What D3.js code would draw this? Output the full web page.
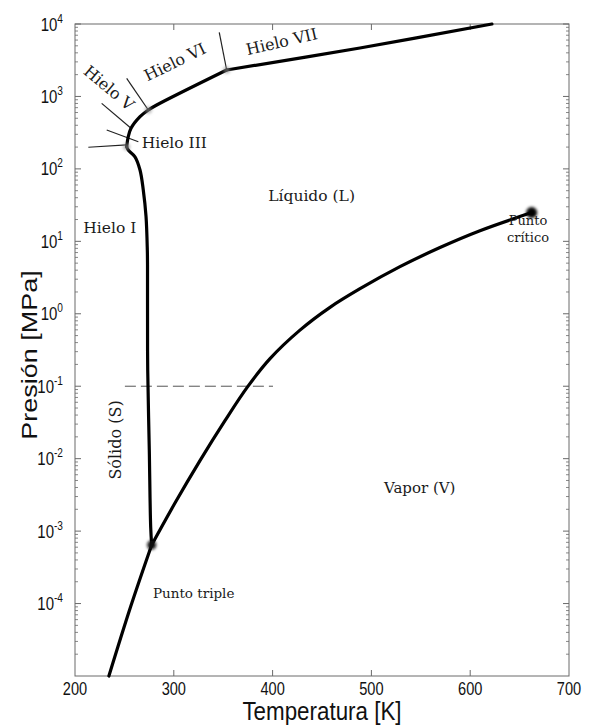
<!DOCTYPE html>
<html>
<head>
<meta charset="utf-8">
<script src="https://cdn.jsdelivr.net/npm/d3@7"></script>
<style>
  body { margin: 0; background: #fff; }
  svg { display: block; }
</style>
</head>
<body>
<svg id="chart" width="600" height="726"></svg>
<script>
// Phase diagram of water: temperature in K, pressure in MPa.

// Solid–vapour boundary (sublimation)
const sublimation = [[234.3, 1e-5], [256.2, 8.95e-5], [277.6, 6.43e-4]];

// Liquid–vapour boundary, triple point to critical point
const vaporization = [
  [277.6, 6.43e-4], [301.2, 2.44e-3], [326.5, 9.40e-3], [351.8, 0.0335],
  [374.6, 0.098], [397.4, 0.2405], [427.7, 0.5953], [458.1, 1.228],
  [488.5, 2.219], [528.9, 4.465], [569.4, 8.219], [609.9, 14.02],
  [662.2, 24.93]
];

// Ice Ih melting line, triple point up to the Ih–III–liquid point
const meltingIh = [
  [277.6, 6.43e-4], [276.6, 1.14e-3], [275.2, 0.0132], [273.6, 0.1675],
  [273.4, 1.55], [273.4, 4.71], [273.2, 7.59], [271.9, 21.9],
  [269.1, 51.2], [265.8, 96.6], [260.7, 147], [253.9, 182], [252.3, 202]
];

// Melting line of ices III, V and VI
const meltingHigh = [
  [252.3, 202], [253.9, 278], [256.7, 363], [265.8, 525],
  [274.2, 650], [282.7, 762], [353.5, 2317]
];

// Melting line of ice VII
const meltingVII = [[353.5, 2317], [488.4, 4667], [622, 1e4]];

// Boundaries between the ice phases
const iceBoundaries = [
  [[213.5, 199], [252.3, 214]],
  [[232.1, 344], [264.1, 237]],
  [[256.7, 363], [227.0, 803]],
  [[274.2, 650], [252.3, 1778]],
  [[353.5, 2317], [346.0, 7676]]
];

// Atmospheric pressure reference (0.1 MPa)
const atmLine = [[250.5, 0.1], [400.4, 0.1]];

const triplePoint = [277.6, 6.43e-4];
const criticalPoint = [662.2, 24.93];
const iceJunctions = [[252.3, 202], [274.2, 650], [353.5, 2317]];

// Axis ticks
const xTicks = [200, 300, 400, 500, 600, 700];
const yExponents = [-4, -3, -2, -1, 0, 1, 2, 3, 4];
const minorDecades = [-5, -4, -3, -2, -1, 0, 1, 2, 3];
const minorMultiples = [2, 3, 4, 5, 6, 7, 8, 9];

// Region and phase labels: [text, T, P, rotation, anchor, size]
const phaseLabels = [
  ["Hielo VII", 409.2, 5700, -13, "middle", 16],
  ["Hielo VI", 301.2, 2985, -26, "middle", 16],
  ["Hielo V", 234.4, 1309, 40, "middle", 16],
  ["Hielo III", 267.5, 196, 0, "start", 15.5],
  ["Hielo I", 208.4, 13.0, 0, "start", 15.5],
  ["Líquido (L)", 395.6, 36.4, 0, "start", 15.5],
  ["Vapor (V)", 512.7, 3.36e-3, 0, "start", 15],
  ["Sólido (S)", 240.5, 0.0181, -90, "middle", 16],
  ["Punto triple", 278.9, 1.19e-4, 0, "start", 13.5],
  ["Punto", 658.5, 16.8, 0, "middle", 13],
  ["crítico", 658.5, 9.88, 0, "middle", 13]
];

const xTitle = "Temperatura [K]";
const yTitle = "Presión [MPa]";

const svg = d3.select("#chart");
const x = d3.scaleLinear().domain([200, 700]).range([75, 569]);
const y = d3.scaleLog().domain([1e-5, 1e4]).range([676, 24]);
const SQ = 0.81; // horizontal compression of the sans-serif lettering

const defs = svg.append("defs");
defs.append("filter").attr("id", "soft").attr("x", "-1").attr("y", "-1")
  .attr("width", "3").attr("height", "3")
  .append("feGaussianBlur").attr("stdDeviation", 1.8);

const axisColor = "#6a6a6a";
const frame = svg.append("g");

// x ticks on bottom and top edges
xTicks.slice(1, -1).forEach(t => {
  frame.append("line").attr("x1", x(t)).attr("x2", x(t))
    .attr("y1", y.range()[0]).attr("y2", y.range()[0] - 6)
    .attr("stroke", axisColor).attr("stroke-width", 1);
  frame.append("line").attr("x1", x(t)).attr("x2", x(t))
    .attr("y1", y.range()[1]).attr("y2", y.range()[1] + 6)
    .attr("stroke", axisColor).attr("stroke-width", 1);
});

// y ticks: majors and log minors on both sides
const x0 = x.range()[0], x1 = x.range()[1];
yExponents.forEach(e => {
  const yy = y(Math.pow(10, e));
  frame.append("line").attr("x1", x0).attr("x2", x0 + 6).attr("y1", yy).attr("y2", yy)
    .attr("stroke", axisColor);
  frame.append("line").attr("x1", x1).attr("x2", x1 - 6).attr("y1", yy).attr("y2", yy)
    .attr("stroke", axisColor);
});
minorDecades.forEach(d => {
  minorMultiples.forEach(m => {
    const yy = y(m * Math.pow(10, d));
    frame.append("line").attr("x1", x0).attr("x2", x0 + 3).attr("y1", yy).attr("y2", yy)
      .attr("stroke", axisColor).attr("stroke-width", 0.8);
    frame.append("line").attr("x1", x1).attr("x2", x1 - 3).attr("y1", yy).attr("y2", yy)
      .attr("stroke", axisColor).attr("stroke-width", 0.8);
  });
});

frame.append("rect")
  .attr("x", x0).attr("y", y.range()[1])
  .attr("width", x1 - x0).attr("height", y.range()[0] - y.range()[1])
  .attr("fill", "none").attr("stroke", axisColor).attr("stroke-width", 1);

// tick labels
const sans = "'Liberation Sans', Arial, Helvetica, sans-serif";
xTicks.forEach(t => {
  svg.append("text")
    .attr("transform", `translate(${x(t)},694.5) scale(${SQ},1)`)
    .attr("text-anchor", "middle")
    .attr("font-family", sans).attr("font-size", 18).attr("fill", "#111")
    .text(t);
});
yExponents.forEach(e => {
  const t = svg.append("text")
    .attr("transform", `translate(63,${y(Math.pow(10, e)) + 6.5}) scale(${SQ},1)`)
    .attr("text-anchor", "end")
    .attr("font-family", sans).attr("font-size", 18.5).attr("fill", "#111");
  t.append("tspan").text("10");
  t.append("tspan").attr("dy", -8).attr("font-size", 12.5).text(String(e));
});

// axis titles
svg.append("text")
  .attr("transform", `translate(${(x0 + x1) / 2},720.3) scale(0.895,1)`)
  .attr("text-anchor", "middle")
  .attr("font-family", sans).attr("font-size", 25).attr("fill", "#111")
  .text(xTitle);
svg.append("text")
  .attr("transform", `translate(37,355) scale(${SQ},1) rotate(-90)`)
  .attr("text-anchor", "middle")
  .attr("font-family", sans).attr("font-size", 27).attr("fill", "#111")
  .text(yTitle);

// phase boundaries
const curve = d3.line().x(d => x(d[0])).y(d => y(d[1]))
  .curve(d3.curveCatmullRom.alpha(0.5));
const straight = d3.line().x(d => x(d[0])).y(d => y(d[1]));

const lines = svg.append("g").attr("fill", "none");

lines.append("path").attr("d", straight(atmLine))
  .attr("stroke", "#555").attr("stroke-width", 1).attr("stroke-dasharray", "11,5");

iceBoundaries.forEach(seg => {
  lines.append("path").attr("d", straight(seg))
    .attr("stroke", "#222").attr("stroke-width", 1.2);
});

[sublimation, vaporization, meltingIh, meltingHigh, meltingVII].forEach(s => {
  lines.append("path").attr("d", curve(s))
    .attr("stroke", "#000").attr("stroke-width", 3.2)
    .attr("stroke-linejoin", "round").attr("stroke-linecap", "round");
});

// special points
const pts = svg.append("g");
iceJunctions.forEach(p => {
  pts.append("circle").attr("cx", x(p[0])).attr("cy", y(p[1])).attr("r", 3.5)
    .attr("fill", "#888").attr("opacity", 0.6).attr("filter", "url(#soft)");
});
pts.append("circle").attr("cx", x(triplePoint[0])).attr("cy", y(triplePoint[1]))
  .attr("r", 4.5).attr("fill", "#111").attr("filter", "url(#soft)");
pts.append("circle").attr("cx", x(criticalPoint[0])).attr("cy", y(criticalPoint[1]))
  .attr("r", 5.5).attr("fill", "#000").attr("filter", "url(#soft)");

// phase labels
const serif = "'DejaVu Serif', serif";
phaseLabels.forEach(([txt, T, P, rot, anchor, size]) => {
  svg.append("text")
    .attr("transform", `translate(${x(T)},${y(P)}) rotate(${rot})`)
    .attr("text-anchor", anchor)
    .attr("dominant-baseline", rot !== 0 ? "central" : "auto")
    .attr("font-family", serif).attr("font-size", size).attr("fill", "#1a1a1a")
    .text(txt);
});
</script>
</body>
</html>
